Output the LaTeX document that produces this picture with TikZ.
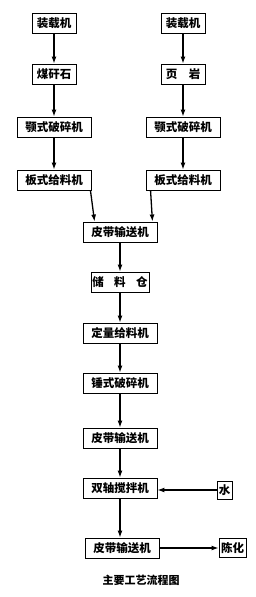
\documentclass[tikz,border=0pt]{standalone}
\usepackage{fontspec}
\newfontfamily\cjk{Noto Sans CJK SC}
\usetikzlibrary{arrows.meta}
\tikzset{
	flowbox/.style={draw,line width=0.9pt,inner sep=0pt,minimum height=20pt,font=\cjk\bfseries\fontsize{11.5}{11.5}\selectfont},
	flowarrow/.style={line width=1.3pt,-{Latex[length=7pt,width=5pt]}}
}

\begin{document}
\begin{tikzpicture}[x=1pt,y=-1pt]
\useasboundingbox (0,0) rectangle (256,597);
\foreach \side/\x/\stone in {
	A/54/煤矸石,
	B/183/{页\hspace{1em}岩}%
	}{
	\node[flowbox,minimum width=44pt] (loader\side) at (\x,23) {装载机};
	\node[flowbox,minimum width=44pt] (stone\side) at (\x,74) {\stone};
	\node[flowbox,minimum width=74pt] (jaw\side) at (\x,127) {颚式破碎机};
	\node[flowbox,minimum width=74pt] (feeder\side) at (\x,180) {板式给料机};
	\draw[flowarrow] (loader\side) -- (stone\side);
	\draw[flowarrow] (stone\side) -- (jaw\side);
	\draw[flowarrow] (jaw\side) -- (feeder\side);
	}
\node[flowbox,minimum width=74pt] (belt1) at (120,232) {皮带输送机};
\node[flowbox,minimum width=58pt] (silo) at (120,282) {储\hspace{0.9em}料\hspace{0.9em}仓};
\node[flowbox,minimum width=74pt] (dosing) at (120,333) {定量给料机};
\node[flowbox,minimum width=74pt] (hammer) at (120,383) {锤式破碎机};
\node[flowbox,minimum width=74pt] (belt2) at (120,438) {皮带输送机};
\node[flowbox,minimum width=74pt] (mixer) at (120,488) {双轴搅拌机};
\node[flowbox,minimum width=15pt,minimum height=18pt] (water) at (224.5,490) {水};
\node[flowbox,minimum width=27pt,minimum height=19pt] (aging) at (232.5,548) {陈化};
\node[flowbox,minimum width=74pt] (belt3) at (122,548) {皮带输送机};
\draw[flowarrow] ([xshift=-1pt]feederA.south east) -- ([xshift=12pt]belt1.north west);
\draw[flowarrow] ([xshift=5pt]feederB.south west) -- ([xshift=-5pt]belt1.north east);
\foreach \a/\b in {belt1/silo, silo/dosing, dosing/hammer, hammer/belt2, belt2/mixer}
	\draw[flowarrow] (\a) -- (\b);
\draw[flowarrow] (mixer.south) -- (mixer.south |- belt3.north);
\draw[flowarrow] (water) -- (water -| mixer.east);
\draw[flowarrow] (belt3) -- (aging);
\node[font=\cjk\bfseries\fontsize{11}{11}\selectfont] (caption) at (141,580) {主要工艺流程图};
\end{tikzpicture}
\end{document}
